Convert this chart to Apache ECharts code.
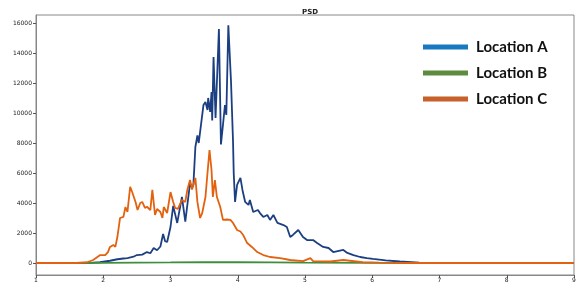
<!DOCTYPE html>
<html>
<head>
<meta charset="utf-8">
<script src="https://cdn.jsdelivr.net/npm/echarts@6/dist/echarts.min.js"></script>
<style>
  html, body { margin: 0; padding: 0; background: #fff; }
  #chart { width: 576px; height: 287px; }
</style>
</head>
<body>
<div id="chart"></div>
<script>
// Location A (blue)
let xA = [1.0, 1.5, 1.8, 1.95, 2.1, 2.21, 2.3, 2.36, 2.45, 2.5, 2.58, 2.65, 2.7, 2.75, 2.8, 2.85, 2.89, 2.92, 2.95, 3.0,
          3.04, 3.1, 3.17, 3.22, 3.29, 3.32, 3.34, 3.37, 3.4, 3.42, 3.49, 3.52, 3.55, 3.56, 3.59, 3.61, 3.62, 3.64, 3.67, 3.72,
          3.75, 3.78, 3.81, 3.83, 3.86, 3.9, 3.93, 3.94, 3.96, 3.99, 4.04, 4.07, 4.11, 4.16, 4.18, 4.23, 4.3, 4.33, 4.38, 4.44,
          4.48, 4.53, 4.59, 4.68, 4.73, 4.78, 4.82, 4.9, 4.97, 5.03, 5.12, 5.18, 5.27, 5.35, 5.42, 5.57, 5.63, 5.72, 5.82, 5.92,
          6.01, 6.2, 6.41, 6.7, 7.0, 9.0];
let yA = [0, 0, 10, 50, 150, 250, 300, 330, 420, 530, 560, 730, 650, 1000, 850, 1100, 1930, 1450, 1400, 2400,
          3800, 2670, 4400, 2750, 5300, 5000, 5200, 7730, 8500, 8000, 10530, 10730, 10200, 11000, 10070, 11400, 9500, 13730, 9670, 15600,
          7900, 9200, 10530, 9870, 15850, 12070, 8070, 6000, 4070, 5200, 5670, 4870, 4070, 3870, 4200, 3400, 3530, 3330, 3070, 3200,
          2870, 3200, 2670, 2530, 2400, 1730, 1870, 2200, 1730, 1530, 1530, 1330, 1070, 1000, 730, 870, 670, 530, 400, 330,
          270, 180, 100, 20, 0, 0];

// Location B (green)
let xB = [1.0, 2.0, 2.5, 3.0, 3.5, 4.0, 4.5, 5.0, 6.0, 9.0];
let yB = [0, 10, 25, 40, 60, 50, 35, 20, 10, 0];

// Location C (orange)
let xC = [1.0, 1.6, 1.76, 1.85, 1.955, 2.03, 2.07, 2.1, 2.15, 2.18, 2.21, 2.25, 2.3, 2.33, 2.36, 2.4, 2.43, 2.45, 2.48, 2.51,
          2.55, 2.58, 2.62, 2.65, 2.7, 2.73, 2.77, 2.8, 2.85, 2.88, 2.9, 2.95, 3.0, 3.04, 3.07, 3.11, 3.17, 3.22, 3.25, 3.29,
          3.32, 3.37, 3.4, 3.44, 3.47, 3.52, 3.55, 3.58, 3.61, 3.63, 3.66, 3.69, 3.74, 3.78, 3.84, 3.89, 3.93, 3.99, 4.04, 4.08,
          4.14, 4.21, 4.29, 4.38, 4.48, 4.63, 4.78, 4.97, 5.08, 5.12, 5.38, 5.57, 5.86, 6.1, 6.5, 9.0];
let yC = [0, 0, 50, 200, 530, 530, 730, 1070, 1200, 1070, 1730, 3000, 3070, 3730, 3400, 5070, 4730, 4800, 4070, 3530,
          4000, 4070, 3670, 3750, 3530, 4870, 3200, 3600, 3400, 3000, 3730, 3330, 4730, 4070, 3670, 3600, 4200, 4070, 4870, 5530,
          4900, 5670, 4070, 3000, 3300, 4400, 6000, 7530, 6200, 4400, 5530, 4400, 3730, 2870, 2900, 2870, 2670, 2200, 2100, 1870,
          1330, 1070, 730, 530, 400, 330, 200, 130, 330, 130, 100, 200, 50, 20, 0, 0];

let yTicks = [0, 2000, 4000, 6000, 8000, 10000, 12000, 14000, 16000];

function pairs(xs, ys) {
    return xs.map((x, i) => [x, ys[i]]);
}

let chart = echarts.init(document.getElementById('chart'));
let option = {
    animation: false,
    title: {
        text: 'PSD',
        left: 297,
        top: 4,
        textStyle: { fontSize: 7, fontWeight: 'bold', color: '#222', fontFamily: 'DejaVu Sans' }
    },
    legend: {
        orient: 'vertical',
        left: 418,
        top: 33,
        icon: 'rect',
        itemWidth: 45,
        itemHeight: 5,
        itemGap: 8,
        textStyle: { fontSize: 15, fontWeight: 'bold', color: '#111', fontFamily: 'Lato', lineHeight: 18, padding: [0, 0, 0, 3] },
        data: [
            { name: 'Location A', itemStyle: { color: '#1878C0' } },
            { name: 'Location B', itemStyle: { color: '#5E8C3E' } },
            { name: 'Location C', itemStyle: { color: '#C8602A' } }
        ]
    },
    grid: {
        left: 36, right: 2, top: 15, bottom: 12,
        containLabel: false,
        outerBoundsMode: 'none',
        show: true,
        borderColor: '#888',
        borderWidth: 1
    },
    xAxis: {
        type: 'value',
        min: 1, max: 9, interval: 1,
        axisLine: { show: true, onZero: false, lineStyle: { color: '#888' } },
        axisTick: { show: true, length: 3, lineStyle: { color: '#555' } },
        splitLine: { show: false },
        axisLabel: { fontSize: 6, color: '#222', margin: 2, fontFamily: 'DejaVu Sans' }
    },
    yAxis: {
        type: 'value',
        min: -800, max: 16530,
        axisLine: { show: true, lineStyle: { color: '#888' } },
        axisTick: { show: true, length: 3, lineStyle: { color: '#555' }, customValues: yTicks },
        splitLine: { show: false },
        axisLabel: {
            fontSize: 6, color: '#222', margin: 4, fontFamily: 'DejaVu Sans', customValues: yTicks,
            formatter: v => String(v)
        }
    },
    series: [
        {
            name: 'Location A', type: 'line', showSymbol: false,
            data: pairs(xA, yA),
            lineStyle: { color: '#1C3F82', width: 1.8 },
            itemStyle: { color: '#1C3F82' }
        },
        {
            name: 'Location B', type: 'line', showSymbol: false,
            data: pairs(xB, yB),
            lineStyle: { color: '#3E8E3E', width: 1.8 },
            itemStyle: { color: '#3E8E3E' }
        },
        {
            name: 'Location C', type: 'line', showSymbol: false,
            data: pairs(xC, yC),
            lineStyle: { color: '#E2620F', width: 1.8 },
            itemStyle: { color: '#E2620F' }
        }
    ]
};
chart.setOption(option);
</script>
</body>
</html>
